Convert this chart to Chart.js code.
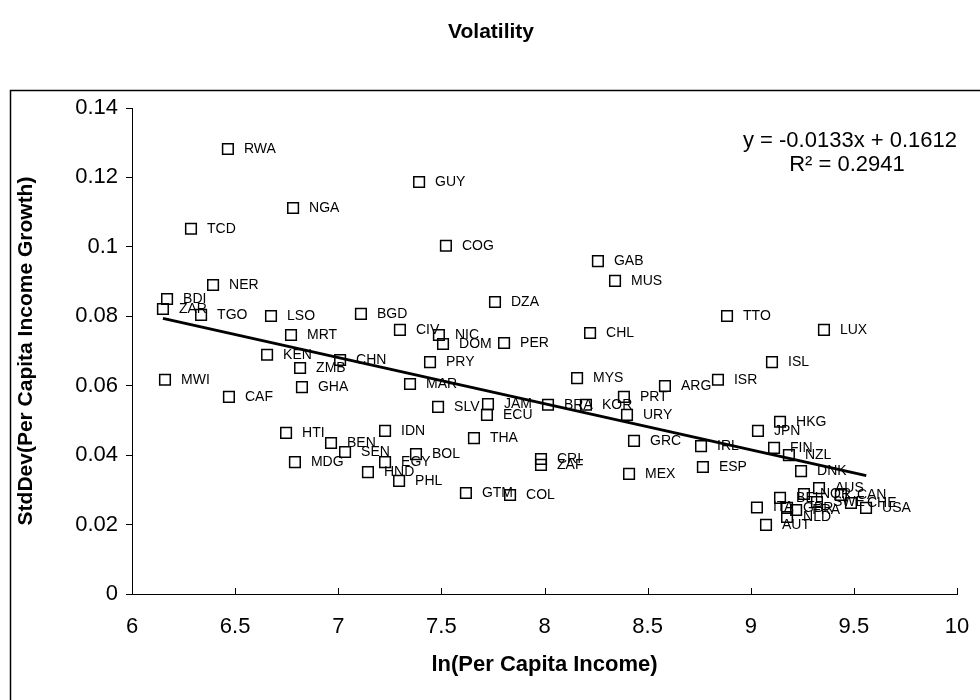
<!DOCTYPE html>
<html>
<head>
<meta charset="utf-8">
<title>Volatility</title>
<script src="https://cdn.jsdelivr.net/npm/chart.js@4.4.1/dist/chart.umd.min.js"></script>
<style>
  html, body { margin: 0; padding: 0; background: #fff; }
  #wrap { position: relative; width: 980px; height: 700px; }
</style>
</head>
<body>
<div id="wrap"><canvas id="volChart" width="980" height="700"></canvas></div>
<script>
// country codes, ln(per capita income) and std dev of per capita income growth
const codes = [
  "RWA", "GUY", "NGA", "TCD", "COG", "GAB", "MUS", "NER", "BDI", "ZAR",
  "DZA", "TGO", "LSO", "BGD", "TTO", "LUX", "CIV", "CHL", "NIC", "MRT",
  "DOM", "PER", "KEN", "CHN", "ISL", "PRY", "ZMB", "MWI", "MYS", "ISR",
  "MAR", "GHA", "ARG", "CAF", "PRT", "SLV", "JAM", "BRA", "KOR", "ECU",
  "URY", "HKG", "JPN", "HTI", "IDN", "THA", "GRC", "BEN", "IRL", "FIN",
  "NZL", "SEN", "BOL", "CRI", "ZAF", "MDG", "EGY", "ESP", "DNK", "HND",
  "MEX", "PHL", "AUS", "GTM", "COL", "BEL", "NOR", "CAN", "SWE", "CHE",
  "USA", "GBR", "FRA", "NLD", "ITA", "AUT"
];
const lnIncome = [
  6.465, 7.392, 6.781, 6.286, 7.522, 8.259, 8.342, 6.393, 6.170, 6.150,
  7.760, 6.335, 6.674, 7.110, 8.885, 9.355, 7.299, 8.221, 7.488, 6.771,
  7.508, 7.804, 6.655, 7.009, 9.103, 7.445, 6.815, 6.160, 8.158, 8.841,
  7.348, 6.824, 8.584, 6.470, 8.385, 7.484, 7.726, 8.017, 8.201, 7.721,
  8.400, 9.142, 9.035, 6.747, 7.227, 7.658, 8.434, 6.965, 8.759, 9.113,
  9.185, 7.033, 7.377, 7.983, 7.983, 6.790, 7.227, 8.768, 9.244, 7.144,
  8.410, 7.295, 9.331, 7.619, 7.833, 9.142, 9.258, 9.437, 9.321, 9.486,
  9.559, 9.176, 9.220, 9.176, 9.030, 9.074
];
const volatility = [
  0.1282, 0.1187, 0.1112, 0.1052, 0.1003, 0.0959, 0.0902, 0.0890, 0.0850, 0.0821,
  0.0841, 0.0804, 0.0801, 0.0807, 0.0801, 0.0761, 0.0761, 0.0752, 0.0746, 0.0746,
  0.0720, 0.0723, 0.0689, 0.0674, 0.0668, 0.0668, 0.0651, 0.0617, 0.0622, 0.0617,
  0.0605, 0.0596, 0.0599, 0.0568, 0.0568, 0.0539, 0.0547, 0.0545, 0.0545, 0.0516,
  0.0516, 0.0496, 0.0470, 0.0464, 0.0470, 0.0449, 0.0441, 0.0435, 0.0426, 0.0421,
  0.0400, 0.0409, 0.0403, 0.0389, 0.0372, 0.0380, 0.0380, 0.0366, 0.0354, 0.0351,
  0.0346, 0.0326, 0.0305, 0.0291, 0.0285, 0.0277, 0.0288, 0.0285, 0.0265, 0.0262,
  0.0248, 0.0248, 0.0242, 0.0222, 0.0249, 0.0199
];

// linear trend y = -0.0133x + 0.1612, drawn over the data range
const trendX = [6.15, 9.56];
const trendY = [0.0794, 0.0341];
const trendText = ["y = -0.0133x + 0.1612", "R\u00B2 = 0.2941"];

const xTickLabels = ["6", "6.5", "7", "7.5", "8", "8.5", "9", "9.5", "10"];
const yTickLabels = ["0", "0.02", "0.04", "0.06", "0.08", "0.1", "0.12", "0.14"];

const FONT = "'Liberation Sans', Arial, sans-serif";

// white page, outer frame and chart title
const framePlugin = {
  id: "frame",
  beforeDraw(chart) {
    const ctx = chart.ctx;
    ctx.save();
    ctx.fillStyle = "#fff";
    ctx.fillRect(0, 0, chart.width, chart.height);
    ctx.strokeStyle = "#000";
    ctx.lineWidth = 1.5;
    ctx.strokeRect(10.5, 90.5, 1000, 700);
    ctx.fillStyle = "#000";
    ctx.font = "bold 21px " + FONT;
    ctx.textAlign = "center";
    ctx.textBaseline = "middle";
    ctx.fillText("Volatility", 491, 32);
    ctx.restore();
  }
};

// country code next to each marker, tick marks inside the x axis, trend equation
const labelPlugin = {
  id: "pointLabels",
  afterDatasetsDraw(chart) {
    const ctx = chart.ctx;
    const meta = chart.getDatasetMeta(0);
    ctx.save();
    ctx.fillStyle = "#000";
    ctx.font = "14px " + FONT;
    ctx.textAlign = "left";
    ctx.textBaseline = "middle";
    meta.data.forEach((pt, i) => {
      ctx.fillText(codes[i], pt.x + 16, pt.y);
    });

    const xs = chart.scales.x;
    ctx.strokeStyle = "#000";
    ctx.lineWidth = 1;
    xs.ticks.forEach((t) => {
      const px = Math.round(xs.getPixelForValue(t.value)) + 0.5;
      ctx.beginPath();
      ctx.moveTo(px, xs.top);
      ctx.lineTo(px, xs.top - 6);
      ctx.stroke();
    });

    const ca = chart.chartArea;
    ctx.font = "22px " + FONT;
    ctx.textAlign = "right";
    ctx.fillText(trendText[0], ca.right, 141);
    ctx.textAlign = "center";
    ctx.fillText(trendText[1], ca.right - 110, 165);
    ctx.restore();
  }
};

const points = codes.map((c, i) => ({ x: lnIncome[i], y: volatility[i] }));
const trend = trendX.map((x, i) => ({ x: x, y: trendY[i] }));

new Chart(document.getElementById("volChart"), {
  type: "scatter",
  data: {
    datasets: [
      {
        label: "Countries",
        data: points,
        pointStyle: "rect",
        pointRadius: 7.5,
        pointBorderWidth: 1.5,
        borderColor: "#000",
        backgroundColor: "rgba(0,0,0,0)",
        showLine: false
      },
      {
        label: "Linear trend",
        data: trend,
        showLine: true,
        borderColor: "#000",
        borderWidth: 3,
        pointRadius: 0,
        fill: false
      }
    ]
  },
  options: {
    responsive: false,
    animation: false,
    devicePixelRatio: 1,
    layout: { padding: { left: 10, top: 108, right: 23, bottom: 0 } },
    plugins: {
      legend: { display: false },
      tooltip: { enabled: false },
      title: { display: false }
    },
    scales: {
      x: {
        type: "linear",
        min: 6,
        max: 10,
        afterFit: (scale) => { scale.height = 106; },
        // outward ticks are hidden, the visible ones point inward (plugin above)
        grid: { drawOnChartArea: false, drawTicks: true, tickLength: 17, color: "rgba(0,0,0,0)" },
        border: { display: true, color: "#000", width: 1 },
        ticks: {
          stepSize: 0.5,
          padding: 3,
          color: "#000",
          font: { family: FONT, size: 22 },
          callback: (v) => xTickLabels[Math.round((v - 6) / 0.5)]
        },
        title: {
          display: true,
          text: "ln(Per Capita Income)",
          color: "#000",
          font: { family: FONT, size: 22, weight: "bold" },
          padding: { top: 0, bottom: 22 }
        }
      },
      y: {
        type: "linear",
        min: 0,
        max: 0.14,
        afterFit: (scale) => { scale.width = 122; },
        grid: { drawOnChartArea: false, drawTicks: true, tickLength: 6, color: "#000" },
        border: { display: true, color: "#000", width: 1 },
        ticks: {
          stepSize: 0.02,
          padding: 8,
          color: "#000",
          font: { family: FONT, size: 22 },
          callback: (v) => yTickLabels[Math.round(v / 0.02)]
        },
        title: {
          display: true,
          text: "StdDev(Per Capita Income Growth)",
          color: "#000",
          font: { family: FONT, size: 21, weight: "bold" },
          padding: { top: 4, bottom: 0 }
        }
      }
    }
  },
  plugins: [framePlugin, labelPlugin]
});
</script>
</body>
</html>
